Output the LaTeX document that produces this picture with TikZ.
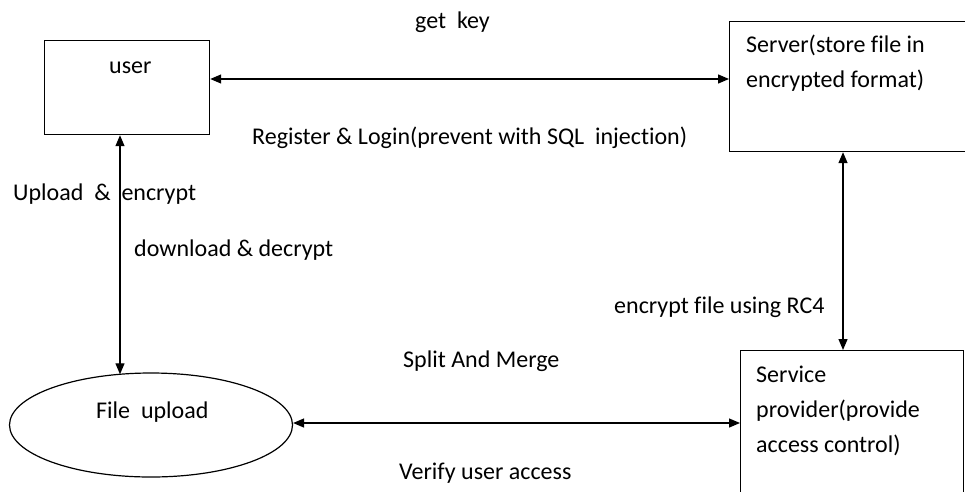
\documentclass[tikz,border=0pt]{standalone}
\usepackage{fontspec}
\setmainfont[Ligatures=NoCommon]{Carlito}
\usetikzlibrary{arrows.meta,shapes.geometric}
\begin{document}
\begin{tikzpicture}[x=1pt,y=-1pt,
  box/.style={draw,line width=1.2pt,inner sep=0pt},
  lbl/.style={font=\fontsize{24}{35}\selectfont,inner sep=0pt,anchor=base west,align=left},
  conn/.style={line width=1.3pt,{Triangle[length=11pt,width=9pt]}-{Triangle[length=11pt,width=9pt]}}]
\useasboundingbox (0,0) rectangle (965,491);
\clip (0,0) rectangle (965,491);
\fill[white] (0,0) rectangle (965,491);
% boxes
\node[box,minimum width=165pt,minimum height=94pt,anchor=north west] (user) at (44,40) {};
\node[box,minimum width=240pt,minimum height=130pt,anchor=north west] (server) at (729,21) {};
\node[box,minimum width=223pt,minimum height=160pt,anchor=north west] (sp) at (740,350) {};
\node[draw,line width=1.2pt,ellipse,minimum width=283pt,minimum height=104pt,inner sep=0pt] (fu) at (151,425) {};
% texts in shapes
\node[lbl] (tuser) at (109,73) {user};
\node[lbl] (tserver) at (746,87) {Server(store file in\\encrypted format)};
\node[lbl] (tsp) at (756,452) {Service\\provider(provide\\access control)};
\node[lbl] (tfu) at (96,418) {File\ \ upload};
% connector labels
\node[lbl] (l1) at (415,28) {get\ \ key};
\node[lbl] (l2) at (252,144) {Register \& Login(prevent with SQL\ \ injection)};
\node[lbl] (l3) at (13,200) {Upload\ \ \&\ \ encrypt};
\node[lbl] (l4) at (134,256) {download \& decrypt};
\node[lbl] (l5) at (614,313) {encrypt\ file using RC4};
\node[lbl] (l6) at (403,367) {Split\ And Merge};
\node[lbl] (l7) at (399,479) {Verify user access};
% connectors
\coordinate (futop) at (120,374.3);
\coordinate (spl) at (740,423);
\draw[conn] (user.east |- 0,79) -- (server.west |- 0,79);
\draw[conn] (user.south -| futop) -- (futop);
\draw[conn] (fu.east |- spl) -- (spl);
\draw[conn] (server.south -| 843,0) -- (sp.north -| 843,0);
\end{tikzpicture}
\end{document}
